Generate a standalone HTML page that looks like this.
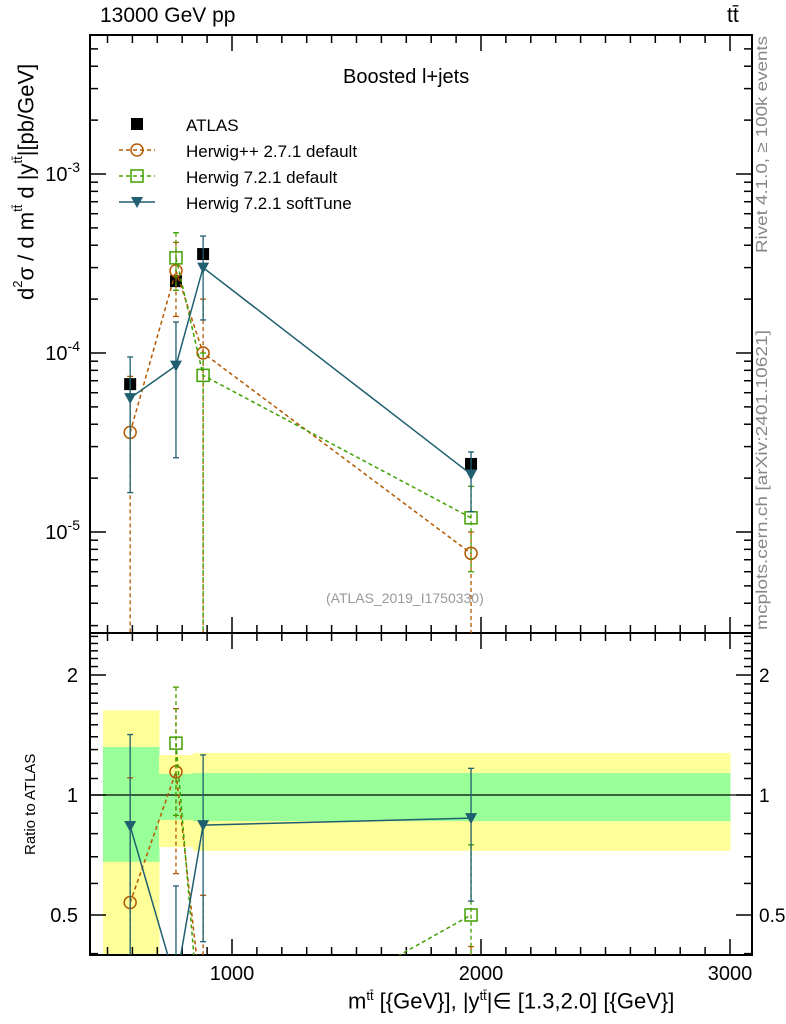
<!DOCTYPE html>
<html><head><meta charset="utf-8"><style>
html,body{margin:0;background:#fff;width:786px;height:1024px;overflow:hidden;position:relative;}
svg{display:block;font-family:"Liberation Sans",sans-serif;}
</style></head><body>
<svg id="c" width="786" height="1024"></svg>
<script>
const bins = [591, 775, 884, 1960];
const binEdges = [482, 707, 843, 1100, 3000];
const atlas = [6.7e-5, 2.52e-4, 3.57e-4, 2.4e-5];
const bandStatHi = [1.32, 1.13, 1.135, 1.135];
const bandStatLo = [0.68, 0.866, 0.86, 0.86];
const bandTotHi = [1.63, 1.26, 1.275, 1.275];
const bandTotLo = [0.3, 0.74, 0.724, 0.724];
const hpp = [3.6e-5, 2.88e-4, 1.0e-4, 7.6e-6];
const hppUp = [7.4e-5, 4.15e-4, 2.0e-4, 1.0e-5];
const hppLo = [0, 1.6e-4, 0, 0];
const h7 = [null, 3.4e-4, 7.5e-5, 1.2e-5];
const h7Up = [null, 4.7e-4, 1.0e-4, 1.8e-5];
const h7Lo = [null, 2.24e-4, 0, 6e-6];
const soft = [5.6e-5, 8.5e-5, 3.0e-4, 2.1e-5];
const softUp = [9.5e-5, 1.49e-4, 4.5e-4, 2.8e-5];
const softLo = [1.66e-5, 2.6e-5, 1.53e-4, 1.3e-5];
const yDecades = [-5, -4, -3];
const rTicks = [0.5, 1, 2];
const xTicks = [1000, 2000, 3000];

const NS = "http://www.w3.org/2000/svg";
const svg = document.getElementById('c');
const L = 90, R = 752, T = 35, B = 633, RT = 633, RB = 955;
const X = v => 232 + (v - 1000) * 0.249;
const Y = v => 174 - (Math.log10(v) + 3) * 179;
const RY = v => 795 - Math.log10(v) * 398.6;
function el(tag, a, p) { const e = document.createElementNS(NS, tag); for (const k in a) e.setAttribute(k, a[k]); (p || svg).appendChild(e); return e; }
function clip(id, y0, y1) { const c = el('clipPath', { id }); el('rect', { x: L, y: y0, width: R - L, height: y1 - y0 }, c); }
clip('cm', T, B); clip('cr', RT, RB);

const gb = el('g', { 'clip-path': 'url(#cr)' });


for (let i = 0; i < bins.length; i++) {
  const x0 = X(binEdges[i]), x1 = X(binEdges[i + 1]);
  const y = el('rect', { x: x0, y: RY(bandTotHi[i]), width: x1 - x0 + 0.5, height: RY(bandTotLo[i]) - RY(bandTotHi[i]), fill: '#ffff99' }, gb);
  
  
  const g = el('rect', { x: x0, y: RY(bandStatHi[i]), width: x1 - x0 + 0.5, height: RY(bandStatLo[i]) - RY(bandStatHi[i]), fill: '#99ff99' }, gb);
  
  
}
el('line', { x1: L, x2: R, y1: RY(1), y2: RY(1), stroke: '#000', 'stroke-width': 1.2 });

for (const [y0, y1] of [[T, B], [RT, RB]]) el('rect', { x: L, y: y0, width: R - L, height: y1 - y0, fill: 'none', stroke: '#000', 'stroke-width': 2 });

for (let d = -6; d <= -2; d++) for (let m = 1; m < 10; m++) {
  const v = m * Math.pow(10, d), y = Y(v);
  if (y < T || y > B) continue;
  const len = m === 1 ? 16 : 8;
  el('line', { x1: L, x2: L + len, y1: y, y2: y, stroke: '#000', 'stroke-width': 1.5 });
  el('line', { x1: R, x2: R - len, y1: y, y2: y, stroke: '#000', 'stroke-width': 1.5 });
}
yDecades.forEach(d => {
  const t = el('text', { x: 80, y: Y(Math.pow(10, d)) + 7, 'text-anchor': 'end', 'font-size': 20 });
  t.innerHTML = '10<tspan dy="-9" font-size="14">' + d + '</tspan>';
  
  
});
for (const v of [0.4, 0.5, 0.6, 0.7, 0.8, 0.9, 1, 2]) {
  const y = RY(v), len = (v === 0.5 || v === 1 || v === 2) ? 16 : 8;
  el('line', { x1: L, x2: L + len, y1: y, y2: y, stroke: '#000', 'stroke-width': 1.5 });
  el('line', { x1: R, x2: R - len, y1: y, y2: y, stroke: '#000', 'stroke-width': 1.5 });
}
for (let v = 1.1; v < 2.55; v += 0.1) { if (Math.abs(v - 2) < 0.01) continue; const y = RY(v);
  el('line', { x1: L, x2: L + 8, y1: y, y2: y, stroke: '#000', 'stroke-width': 1.5 });
  el('line', { x1: R, x2: R - 8, y1: y, y2: y, stroke: '#000', 'stroke-width': 1.5 }); }
rTicks.forEach(v => {
  const a = el('text', { x: 78, y: RY(v) + 7, 'text-anchor': 'end', 'font-size': 20 }); a.textContent = v;
  
  
  const b = el('text', { x: 759, y: RY(v) + 7, 'font-size': 19 }); b.textContent = v;
  
  
});
for (let v = 500; v <= 3000; v += 100) {
  const x = X(v); if (x < L || x > R) continue;
  const len = v % 1000 === 0 ? 16 : 8;
  for (const [yb, s] of [[B, -1], [T, 1], [RB, -1], [RT, 1]]) el('line', { x1: x, x2: x, y1: yb, y2: yb + s * len, stroke: '#000', 'stroke-width': 1.5 });
}
xTicks.forEach(v => {
  const t = el('text', { x: X(v), y: 980, 'text-anchor': 'middle', 'font-size': 20 }); t.textContent = v;
  
  
});

function marker(g, kind, x, y, col) {
  if (kind === 'sq') el('rect', { x: x - 6, y: y - 6, width: 12, height: 12, fill: '#000' }, g);
  else if (kind === 'circ') el('circle', { cx: x, cy: y, r: 6, fill: 'none', stroke: col, 'stroke-width': 1.5 }, g);
  else if (kind === 'osq') el('rect', { x: x - 6, y: y - 6, width: 12, height: 12, fill: 'none', stroke: col, 'stroke-width': 1.5 }, g);
  else el('path', { d: `M${x - 6},${y - 5}L${x + 6},${y - 5}L${x},${y + 6}Z`, fill: col }, g);
}
function series(name, vals, up, lo, col, dash, kind, ratio) {
  const yf = ratio ? (v => RY(v)) : (v => Y(v));
  const g = el('g', { 'clip-path': ratio ? 'url(#cr)' : 'url(#cm)' });
  
  
  const ybot = ratio ? RB + 10 : B + 10;
  const pts = [];
  vals.forEach((v, i) => {
    if (v == null) return;
    const d = ratio ? atlas[i] : 1;
    const yv = yf(v / d);
    const x = X(bins[i]);
    if (up) {
      const yu = yf(up[i] / d), yl = lo[i] > 0 ? yf(lo[i] / d) : ybot;
      el('line', { x1: x, x2: x, y1: yu, y2: yl, stroke: col, 'stroke-width': 1.3, 'stroke-dasharray': dash }, g);
      el('line', { x1: x - 3, x2: x + 3, y1: yu, y2: yu, stroke: col, 'stroke-width': 1.3 }, g);
      if (lo[i] > 0) el('line', { x1: x - 3, x2: x + 3, y1: yl, y2: yl, stroke: col, 'stroke-width': 1.3 }, g);
    }
    pts.push([x, yv]);
  });
  if (kind !== 'sq') el('polyline', { points: pts.map(p => p.join(',')).join(' '), fill: 'none', stroke: col, 'stroke-width': 1.5, 'stroke-dasharray': dash }, g);
  pts.forEach(p => marker(g, kind, p[0], p[1], col));
}
series('atlas-data', atlas, null, null, '#000', '', 'sq', false);
series('herwigpp-271', hpp, hppUp, hppLo, '#b35900', '4,3', 'circ', false);
series('herwig-721-default', h7, h7Up, h7Lo, '#40a000', '4,3', 'osq', false);
series('herwig-721-softtune', soft, softUp, softLo, '#1f5f6f', '', 'tri', false);
series('ratio-herwigpp-271', hpp, hppUp, hppLo, '#b35900', '4,3', 'circ', true);
series('ratio-herwig-721-default', h7, h7Up, h7Lo, '#40a000', '4,3', 'osq', true);
series('ratio-herwig-721-softtune', soft, softUp, softLo, '#1f5f6f', '', 'tri', true);

const lg = el('g', {});  
const leg = [['ATLAS', 'sq', '#000', null], ['Herwig++ 2.7.1 default', 'circ', '#b35900', '4,3'], ['Herwig 7.2.1 default', 'osq', '#40a000', '4,3'], ['Herwig 7.2.1 softTune', 'tri', '#1f5f6f', '']];
leg.forEach((l, i) => {
  const y = 124 + i * 26;
  if (l[3] != null) el('line', { x1: 119, x2: 155, y1: y, y2: y, stroke: l[2], 'stroke-width': 1.5, 'stroke-dasharray': l[3] }, lg);
  marker(lg, l[1], 137, y, l[2]);
  const t = el('text', { x: 186, y: y + 7, 'font-size': 17 }, lg); t.textContent = l[0];
  
  
});

// side labels as svg text
const rv = el('text', { transform: 'translate(767,253) rotate(-90)', 'font-size': 16, fill: '#888', textLength: 217, lengthAdjust: 'spacingAndGlyphs' });
rv.textContent = 'Rivet 4.1.0, ≥ 100k events';


const mc = el('text', { transform: 'translate(767,630) rotate(-90)', 'font-size': 16, fill: '#888', textLength: 300, lengthAdjust: 'spacingAndGlyphs' });
mc.textContent = 'mcplots.cern.ch [arXiv:2401.10621]';


</script>
<div style="position:absolute;left:0;top:0;width:786px;height:1024px;overflow:hidden;pointer-events:none;font-family:'Liberation Sans',sans-serif;">
<div style="position:absolute;left:100px;top:4px;font-size:21px;">13000 GeV pp</div>
<div style="position:absolute;left:727px;top:4px;font-size:21px;">tt&#772;</div>
<div style="position:absolute;left:343px;top:66px;font-size:20px;">Boosted l+jets</div>
<div style="position:absolute;left:326px;top:590px;font-size:14px;color:#999;">(ATLAS_2019_I1750330)</div>
<div style="position:absolute;left:10px;top:36px;font-size:22px;writing-mode:vertical-rl;transform:rotate(180deg);height:264px;white-space:nowrap;">d<sup style="font-size:13px">2</sup>σ / d m<sup style="font-size:13px">tt̄</sup> d |y<sup style="font-size:13px">tt̄</sup>|[pb/GeV]</div>
<div style="position:absolute;left:22px;top:735px;font-size:15px;writing-mode:vertical-rl;transform:rotate(180deg);height:120px;white-space:nowrap;">Ratio to ATLAS</div>
<div style="position:absolute;left:348px;top:988px;font-size:22px;white-space:nowrap;">m<sup style="font-size:13px">tt̄</sup> [{GeV}], |y<sup style="font-size:13px">tt̄</sup>|∈ [1.3,2.0] [{GeV}]</div>
</div>
</body></html>
